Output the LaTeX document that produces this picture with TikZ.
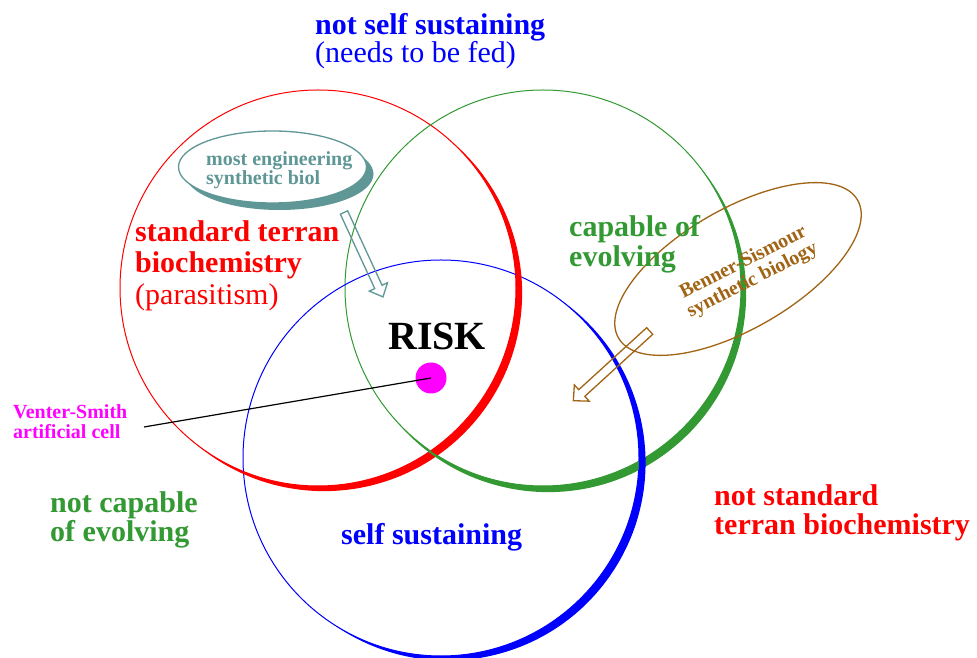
\documentclass[tikz,border=0pt]{standalone}
\usepackage{fontspec}
\setmainfont{Liberation Serif}
\usetikzlibrary{calc}
\definecolor{cgreen}{RGB}{51,153,51}
\definecolor{cteal}{RGB}{95,150,150}
\definecolor{cbrown}{RGB}{160,100,20}
\definecolor{cmag}{RGB}{255,0,255}
\definecolor{cred}{RGB}{255,0,0}
\definecolor{cblue}{RGB}{0,0,255}
\tikzset{
  labelbig/.style={font=\fontsize{30}{30}\selectfont\bfseries, inner sep=0pt, anchor=base west},
  labelreg/.style={font=\fontsize{30}{30}\selectfont, inner sep=0pt, anchor=base west},
  labelsmall/.style={font=\fontsize{20}{20}\selectfont\bfseries, inner sep=0pt, anchor=base west},
  thinring/.style={line width=1pt},
  hollowarrow/.style={line width=1.3pt, line join=miter},
}
% #1 colour, #2 centre, #3 radius, #4 start angle, #5 end angle, #6 offset vector
\newcommand\mycrescent[6]{%
  \fill[#1] ($(#2)+(#4:#3)+(#6)$) arc[start angle=#4, end angle=#5, radius=#3]
    -- ($(#2)+(#5:#3)$) arc[start angle=#5, end angle=#4, radius=#3] -- cycle;}
\begin{document}
\begin{tikzpicture}[x=1pt,y=1pt]
\useasboundingbox (0,0) rectangle (977,658);
\fill[white] (0,0) rectangle (977,658);
\coordinate (Rc) at (318,370);
\coordinate (Gc) at (543,370);
\coordinate (Bc) at (441,200);
% circles
\draw[cred, thinring] (Rc) circle (198);
\draw[cgreen, thinring] (Gc) circle (198);
\draw[cblue, thinring] (Bc) circle (198);
\mycrescent{cred}{Rc}{198}{50}{-130}{-40:8}
\mycrescent{cgreen}{Gc}{198}{40}{-140}{-50:8}
\mycrescent{cblue}{Bc}{198}{55}{-125}{-35:8}
% teal ellipse with shadow
\fill[cteal] (279.5,484) ellipse (94 and 36);
\filldraw[fill=white, draw=cteal, line width=1.3pt] (272.5,491) ellipse (94 and 36);
\node[labelsmall, text=cteal] (me1) at (206,492) {most engineering};
\node[labelsmall, text=cteal] (me2) at (206,473) {synthetic biol};
% teal hollow arrow
\begin{scope}[shift={(344,445.5)}, rotate=-65.2]
  \draw[cteal, hollowarrow] (0,4) -- (82,4) -- (82,10) -- (93,0) -- (82,-10) -- (82,-4) -- (0,-4) -- cycle;
\end{scope}
% brown ellipse
\draw[cbrown, line width=1.3pt, rotate around={30:(738,389)}] (738,389) ellipse (138 and 60);
\node[font=\fontsize{20}{20}\selectfont\bfseries, text=cbrown, align=center, rotate=27, inner sep=0pt] (bs) at (748,386) {Benner-Sismour\\synthetic biology};
% brown hollow arrow
\begin{scope}[shift={(649.7,327)}, rotate=222.4]
  \draw[cbrown, hollowarrow] (0,4.5) -- (92,4.5) -- (92,11) -- (103.4,0) -- (92,-11) -- (92,-4.5) -- (0,-4.5) -- cycle;
\end{scope}
% texts
\node[labelbig, text=cblue] (ns1) at (315,623) {not self sustaining};
\node[labelreg, text=cblue] (ns2) at (315,595) {(needs to be fed)};
\node[labelbig, text=cred] (st1) at (135,416) {standard terran};
\node[labelbig, text=cred] (st2) at (135,385) {biochemistry};
\node[labelreg, text=cred] (st3) at (135,353) {(parasitism)};
\node[labelbig, text=cgreen] (ce1) at (569,421) {capable of};
\node[labelbig, text=cgreen] (ce2) at (569,391) {evolving};
\node[font=\fontsize{40}{40}\selectfont\bfseries, inner sep=0pt, anchor=base west] (risk) at (388,308) {RISK};
\node[labelbig, text=cgreen] (nc1) at (50,145) {not capable};
\node[labelbig, text=cgreen] (nc2) at (50,116) {of evolving};
\node[labelbig, text=cblue] (ss) at (341,113) {self sustaining};
\node[labelbig, text=cred] (nst1) at (714,152) {not standard};
\node[labelbig, text=cred] (nst2) at (714,123) {terran biochemistry};
\node[labelsmall, text=cmag] (vs1) at (13,239) {Venter-Smith};
\node[labelsmall, text=cmag] (vs2) at (13,219) {artificial cell};
% dot and pointer
\node[circle, fill=cmag, minimum size=31pt, inner sep=0pt] (dot) at (431,280) {};
\coordinate (vsend) at (144,231);
\draw[black, line width=1.2pt] (vsend) -- (dot.center);
\end{tikzpicture}
\end{document}
